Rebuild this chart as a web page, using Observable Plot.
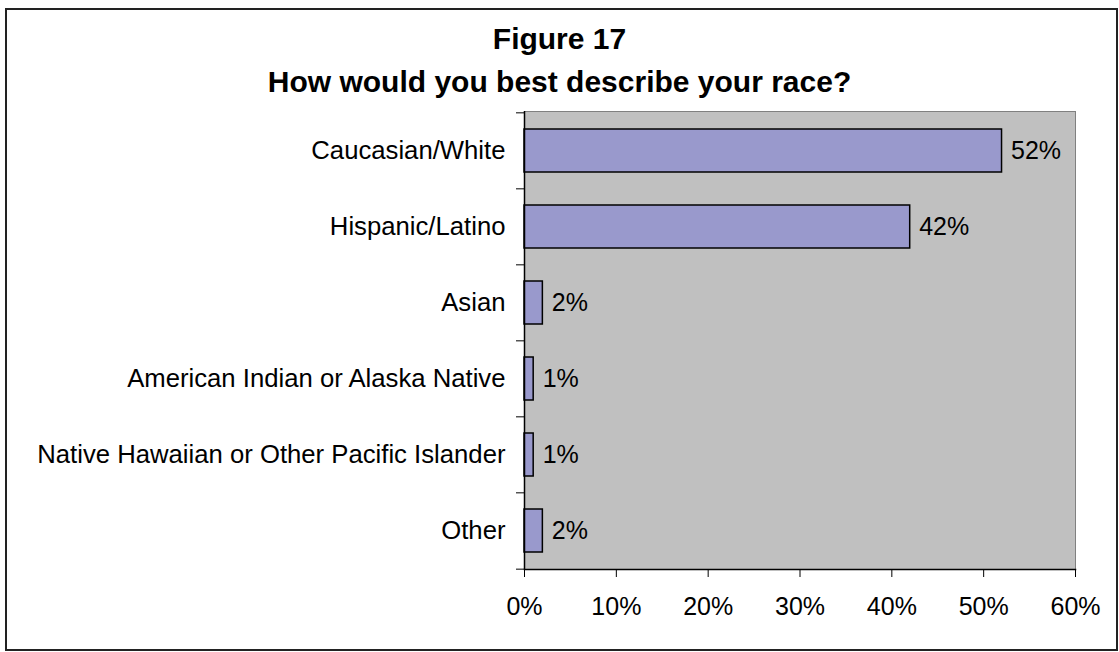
<!DOCTYPE html>
<html>
<head>
<meta charset="utf-8">
<script src="https://cdn.jsdelivr.net/npm/d3@7"></script>
<script src="https://cdn.jsdelivr.net/npm/@observablehq/plot@0.6"></script>
<style>
  html, body { margin: 0; padding: 0; background: #fff; }
  #wrap { position: relative; width: 1119px; height: 652px; overflow: hidden; font-family: Arial, "Liberation Sans", sans-serif; }
  #border { position: absolute; left: 5px; top: 8px; width: 1109px; height: 639px; border: 2px solid #222; }
  #title { position: absolute; left: 0; top: 17px; width: 1119px; text-align: center; font-weight: bold; font-size: 30px; line-height: 43px; color: #000; }
  #chart { position: absolute; left: 0; top: 100px; }
</style>
</head>
<body>
<div id="wrap">
  <div id="border"></div>
  <div id="title">Figure 17<br>How would you best describe your race?</div>
  <div id="chart"></div>
</div>
<script>
const categories = [
  "Caucasian/White",
  "Hispanic/Latino",
  "Asian",
  "American Indian or Alaska Native",
  "Native Hawaiian or Other Pacific Islander",
  "Other"
];
const values = [52, 42, 2, 1, 1, 2];
const xTicks = [0, 10, 20, 30, 40, 50, 60];

const data = categories.map((c, i) => ({category: c, value: values[i]}));

const W = 1119, H = 552;
const mTop = 11, mBottom = 83, mLeft = 524, mRight = 44;
const step = (H - mTop - mBottom) / categories.length;
const font = "Arial, 'Liberation Sans', sans-serif";

const chart = Plot.plot({
  width: W,
  height: H,
  marginLeft: mLeft,
  marginRight: mRight,
  marginTop: mTop,
  marginBottom: mBottom,
  style: {fontFamily: font, fontSize: "25px", color: "#000", background: "transparent", overflow: "visible"},
  x: {domain: [0, 60], label: null},
  y: {domain: categories, paddingInner: 0.44, paddingOuter: 0.22, label: null},
  marks: [
    Plot.frame({fill: "#c0c0c0", stroke: "#808080"}),
    Plot.barX(data, {x: "value", y: "category", fill: "#9999cc", stroke: "#000", strokeWidth: 1.5}),
    Plot.text(data, {x: "value", y: "category", text: d => d.value + "%", textAnchor: "start", dx: 9, fill: "#000", fontSize: 25}),
    Plot.axisY({tickSize: 0, tickPadding: 19, fill: "#000", fontSize: 25.7}),
    Plot.axisY({ticks: categories, tickSize: 8, text: null, stroke: "#000", dy: -step / 2}),
    Plot.axisY({ticks: [categories[categories.length - 1]], tickSize: 8, text: null, stroke: "#000", dy: step / 2}),
    Plot.axisX({ticks: xTicks, tickFormat: d => d + "%", tickSize: 8, tickPadding: 20, fill: "#000", stroke: "#000", fontSize: 25}),
    Plot.ruleX([0], {stroke: "#000", strokeWidth: 1.5}),
    Plot.frame({anchor: "bottom", stroke: "#000", strokeWidth: 1.5})
  ]
});
document.getElementById("chart").appendChild(chart);
</script>
</body>
</html>
